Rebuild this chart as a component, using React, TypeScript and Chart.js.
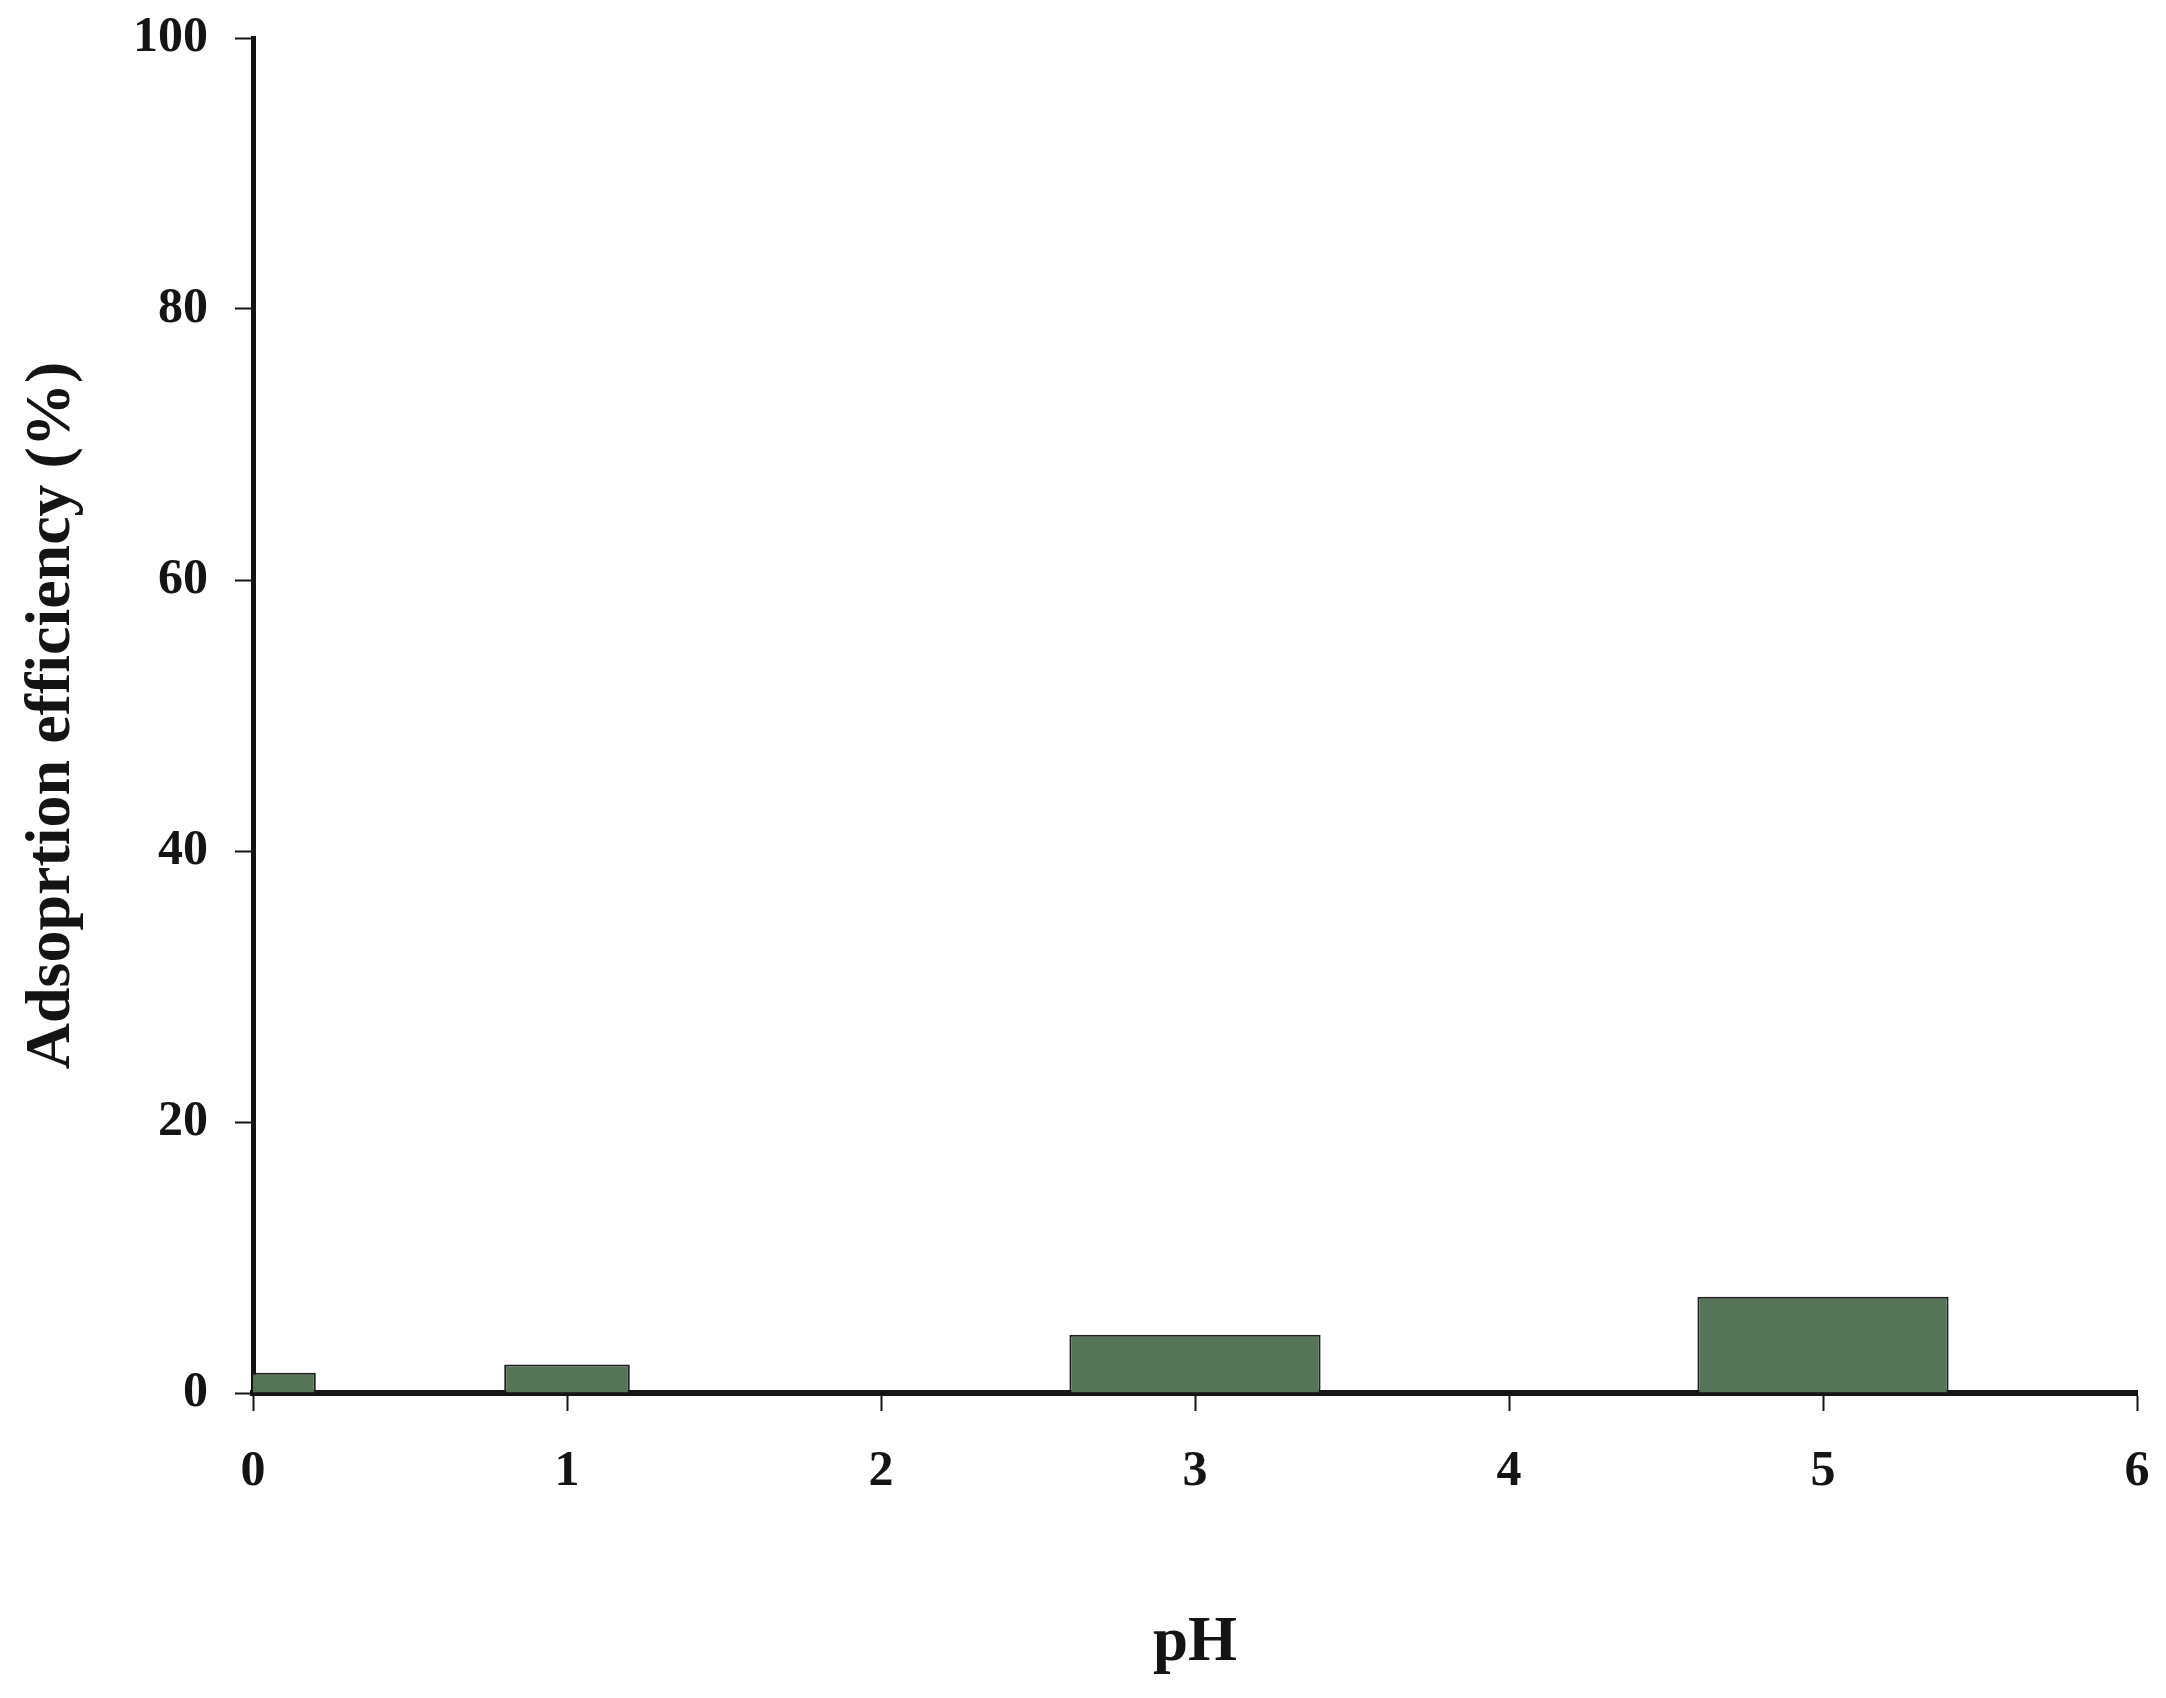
import React, { useEffect, useRef } from "react";
import { Chart, registerables } from "chart.js";

Chart.register(...registerables);

// Data
const phValues = [0, 1, 3, 5];
const efficiency = [1.5, 2.1, 4.3, 7.1];
const xTickValues = [0, 1, 2, 3, 4, 5, 6];
const yTickValues = [0, 20, 40, 60, 80, 100];

const xTitle = "pH";
const yTitle = "Adsoprtion efficiency (%)";

const FILL = "#567558";
const EDGE = "#1e1e1e";
const INK = "#141414";
const FONT = "'Liberation Serif', 'Times New Roman', serif";

export default function App() {
  const ref = useRef<HTMLCanvasElement | null>(null);

  useEffect(() => {
    document.body.style.margin = "0";
    const canvas = ref.current;
    if (!canvas) return;

    // narrow bars at pH 0 and 1, wide bars at pH 3 and 5 (as in the reference)
    const narrowPts = phValues.slice(0, 2).map((x, i) => ({ x, y: efficiency[i] }));
    const widePts = phValues.slice(2).map((x, i) => ({ x, y: efficiency[i + 2] }));

    const chart = new Chart(canvas, {
      type: "bar",
      data: {
        datasets: [
          {
            data: narrowPts,
            backgroundColor: FILL,
            borderColor: EDGE,
            borderWidth: 2,
            barPercentage: 0.4,
            categoryPercentage: 1,
            grouped: false,
            clip: 0,
          } as any,
          {
            data: widePts,
            backgroundColor: FILL,
            borderColor: EDGE,
            borderWidth: 2,
            barPercentage: 0.8,
            categoryPercentage: 1,
            grouped: false,
            clip: 0,
          } as any,
        ],
      },
      options: {
        responsive: false,
        animation: false,
        devicePixelRatio: 1,
        layout: { padding: { top: 38, right: 29, bottom: 0, left: 0 } },
        plugins: {
          legend: { display: false },
          tooltip: { enabled: false },
        },
        scales: {
          x: {
            type: "linear",
            min: 0,
            max: 6,
            offset: false,
            z: 1,
            afterFit: (s: any) => {
              s.height = 305;
              s.paddingLeft = 0;
              s.paddingRight = 0;
            },
            afterBuildTicks: (s: any) => {
              s.ticks = xTickValues.map((v) => ({ value: v }));
            },
            ticks: {
              stepSize: 1,
              color: INK,
              padding: 31,
              font: { family: FONT, size: 50, weight: "bold" },
            },
            grid: {
              offset: false,
              drawOnChartArea: false,
              drawTicks: true,
              tickLength: 18,
              tickWidth: 2,
              tickColor: INK,
            },
            border: { display: true, color: INK, width: 6 },
            title: {
              display: true,
              text: xTitle,
              color: INK,
              padding: { top: 0, bottom: 16 },
              font: { family: FONT, size: 63, weight: "bold" },
            },
          },
          y: {
            type: "linear",
            min: 0,
            max: 100,
            z: 1,
            afterFit: (s: any) => {
              s.width = 253;
              s.paddingTop = 0;
              s.paddingBottom = 0;
            },
            afterBuildTicks: (s: any) => {
              s.ticks = yTickValues.map((v) => ({ value: v }));
            },
            ticks: {
              stepSize: 20,
              color: INK,
              padding: 27,
              font: { family: FONT, size: 50, weight: "bold" },
            },
            grid: {
              drawOnChartArea: false,
              drawTicks: true,
              tickLength: 18,
              tickWidth: 2,
              tickColor: INK,
            },
            border: { display: true, color: INK, width: 5 },
            title: {
              display: true,
              text: yTitle,
              color: INK,
              padding: { top: 14, bottom: 0 },
              font: { family: FONT, size: 64, weight: "bold" },
            },
          },
        },
      },
    });

    return () => chart.destroy();
  }, []);

  return (
    <div style={{ width: 2166, height: 1698, background: "#ffffff" }}>
      <canvas ref={ref} width={2166} height={1698} style={{ display: "block" }} />
    </div>
  );
}
